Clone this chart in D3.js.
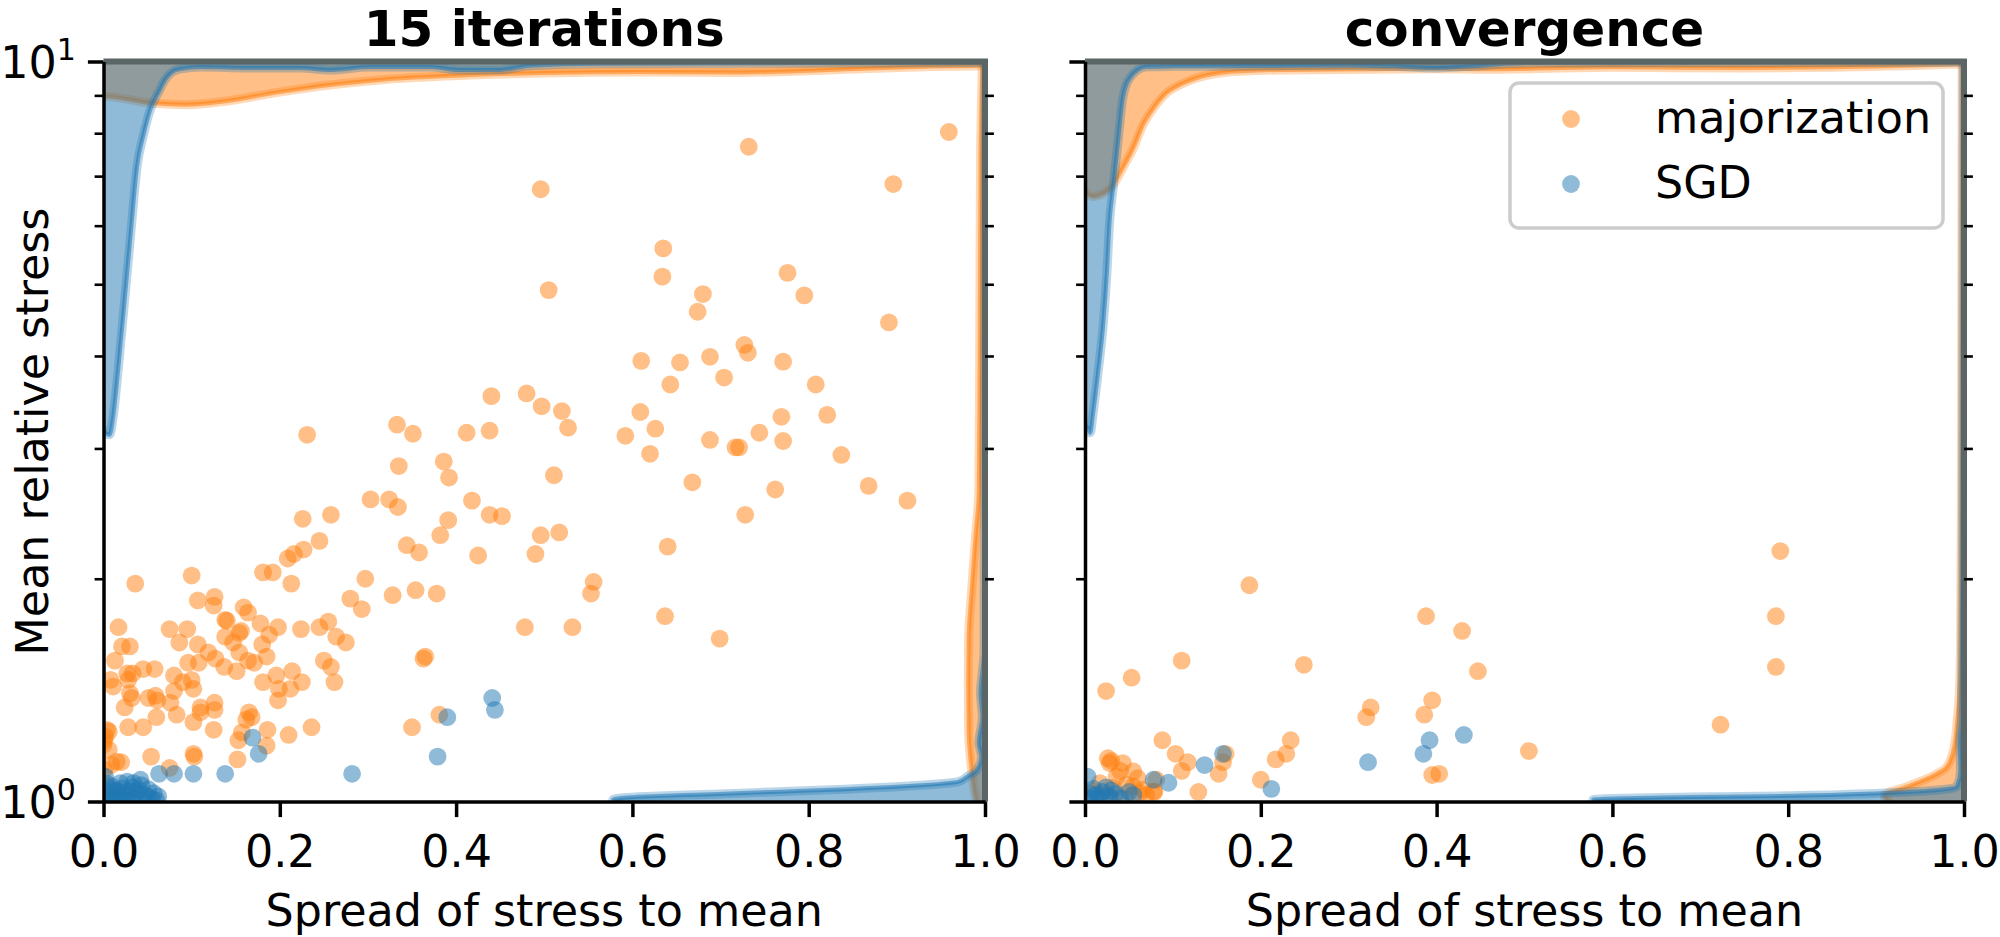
<!DOCTYPE html>
<html>
<head>
<meta charset="utf-8">
<script src="https://cdn.jsdelivr.net/npm/d3@7/dist/d3.min.js"></script>
<style>
  body { margin: 0; background: #fff; }
  svg text { font-family: "DejaVu Sans", sans-serif; fill: #000; }
</style>
</head>
<body>
<div id="chart"></div>
<script>
var orange = '#ff7f0e',
    blue = '#1f77b4';

var titles = ['15 iterations', 'convergence'],
    seriesNames = ['majorization', 'SGD'],
    xTicks = [0, 0.2, 0.4, 0.6, 0.8, 1.0],
    yMajor = [1, 10],
    yMinor = [2, 3, 4, 5, 6, 7, 8, 9];

// scatter points, [spread, mean relative stress]
var maj15 = [
  [0.959, 8.03], [0.732, 7.67], [0.496, 6.72], [0.896, 6.83], [0.635, 5.59], [0.634, 5.12], [0.776, 5.18],
  [0.505, 4.91], [0.680, 4.85], [0.795, 4.83], [0.674, 4.59], [0.891, 4.44], [0.727, 4.14], [0.731, 4.04],
  [0.610, 3.94], [0.654, 3.92], [0.688, 3.99], [0.771, 3.93], [0.643, 3.66], [0.704, 3.74], [0.808, 3.66],
  [0.440, 3.53], [0.480, 3.56], [0.497, 3.42], [0.520, 3.37], [0.609, 3.36], [0.769, 3.31], [0.821, 3.33],
  [0.527, 3.20], [0.626, 3.19], [0.333, 3.23], [0.412, 3.15], [0.438, 3.17], [0.351, 3.14], [0.592, 3.12],
  [0.744, 3.15], [0.688, 3.08], [0.721, 3.01], [0.717, 3.01], [0.771, 3.07], [0.837, 2.94], [0.620, 2.95],
  [0.231, 3.13], [0.386, 2.88], [0.335, 2.84], [0.511, 2.76],
  [0.392, 2.74], [0.668, 2.70], [0.762, 2.64], [0.868, 2.67], [0.912, 2.55], [0.728, 2.44], [0.640, 2.21],
  [0.637, 1.78], [0.699, 1.66], [0.556, 1.98], [0.553, 1.91], [0.478, 1.72], [0.532, 1.72], [0.496, 2.29],
  [0.517, 2.31], [0.490, 2.16], [0.418, 2.55], [0.438, 2.44], [0.452, 2.43], [0.391, 2.40], [0.382, 2.29],
  [0.425, 2.15], [0.303, 2.56], [0.324, 2.56], [0.334, 2.50], [0.344, 2.22], [0.358, 2.17], [0.297, 2.00],
  [0.328, 1.90], [0.354, 1.93], [0.378, 1.91], [0.280, 1.88], [0.293, 1.82], [0.363, 1.56], [0.365, 1.57],
  [0.381, 1.31], [0.350, 1.26],
  [0.226, 2.41], [0.258, 2.44], [0.245, 2.25], [0.227, 2.19], [0.216, 2.16], [0.209, 2.13], [0.181, 2.04],
  [0.192, 2.04], [0.213, 1.97], [0.100, 2.02], [0.036, 1.97], [0.107, 1.87], [0.126, 1.89], [0.125, 1.84],
  [0.159, 1.83], [0.164, 1.80], [0.138, 1.76], [0.140, 1.755], [0.017, 1.72], [0.075, 1.71], [0.095, 1.71],
  [0.086, 1.64], [0.107, 1.63], [0.021, 1.62], [0.030, 1.62], [0.178, 1.74], [0.198, 1.72], [0.224, 1.71],
  [0.154, 1.69], [0.156, 1.70], [0.188, 1.68], [0.138, 1.67], [0.147, 1.64], [0.180, 1.63], [0.154, 1.59],
  [0.119, 1.59], [0.127, 1.56], [0.185, 1.57], [0.164, 1.55], [0.171, 1.54], [0.151, 1.50], [0.137, 1.52],
  [0.013, 1.55], [0.096, 1.54], [0.108, 1.54], [0.045, 1.51], [0.058, 1.51], [0.027, 1.49], [0.033, 1.49],
  [0.028, 1.46], [0.080, 1.48], [0.090, 1.45], [0.100, 1.46], [0.102, 1.42], [0.080, 1.41], [0.008, 1.46],
  [0.011, 1.43], [0.196, 1.48], [0.214, 1.50], [0.225, 1.45], [0.181, 1.45], [0.199, 1.42], [0.212, 1.42],
  [0.198, 1.37], [0.250, 1.55], [0.258, 1.52], [0.262, 1.45], [0.245, 1.72], [0.255, 1.75], [0.264, 1.67],
  [0.275, 1.64], [0.030, 1.40], [0.032, 1.38], [0.051, 1.38], [0.061, 1.37], [0.059, 1.39], [0.076, 1.36],
  [0.024, 1.34], [0.083, 1.31], [0.060, 1.30], [0.028, 1.26], [0.045, 1.26], [0.102, 1.28], [0.125, 1.25],
  [0.110, 1.34], [0.110, 1.32], [0.126, 1.36], [0.126, 1.33], [0.165, 1.32], [0.162, 1.29], [0.168, 1.30],
  [0.157, 1.24], [0.153, 1.21], [0.186, 1.25], [0.185, 1.19], [0.152, 1.14], [0.210, 1.23], [0.236, 1.26],
  [0.054, 1.15], [0.075, 1.11], [0.102, 1.16], [0.103, 1.15], [0.020, 1.13],
  [0.002, 1.224], [0.006, 1.243], [0.000, 1.193], [0.006, 1.175], [0.009, 1.121], [0.015, 1.132],
  [0.001, 1.104], [0.003, 1.05], [0.012, 1.03], [0.004, 1.25], [0.001, 1.21]
];

var sgd15 = [
  [0.441, 1.38], [0.444, 1.33], [0.390, 1.30], [0.379, 1.15], [0.282, 1.09], [0.169, 1.22], [0.176, 1.16],
  [0.138, 1.09], [0.102, 1.09], [0.080, 1.09], [0.063, 1.09], [0.002, 1.08],
  [0.010, 1.048], [0.019, 1.059], [0.027, 1.064], [0.034, 1.059], [0.042, 1.070], [0.008, 1.021],
  [0.019, 1.026], [0.030, 1.032], [0.040, 1.037], [0.051, 1.039], [0.057, 1.026], [0.062, 1.016],
  [0.047, 1.021], [0.004, 1.005], [0.012, 1.01], [0.025, 1.005], [0.035, 1.012], [0.015, 1.035],
  [0.005, 1.03], [0.045, 1.004], [0.055, 1.008], [0.022, 1.042], [0.008, 1.012], [0.016, 1.018],
  [0.027, 1.022], [0.038, 1.028], [0.030, 1.003], [0.020, 1.002], [0.050, 1.015], [0.010, 1.038],
  [0.033, 1.045], [0.043, 1.052], [0.060, 1.003], [0.003, 1.058]
];

var majConv = [
  [0.791, 2.18], [0.187, 1.96], [0.388, 1.78], [0.786, 1.78], [0.429, 1.70], [0.110, 1.55], [0.249, 1.53],
  [0.447, 1.50], [0.786, 1.52], [0.053, 1.47], [0.024, 1.41], [0.395, 1.37], [0.386, 1.31], [0.325, 1.34],
  [0.320, 1.30], [0.723, 1.27], [0.505, 1.17], [0.234, 1.21], [0.229, 1.16], [0.217, 1.14], [0.088, 1.21],
  [0.103, 1.16], [0.117, 1.13], [0.110, 1.10], [0.160, 1.16], [0.157, 1.13], [0.152, 1.09], [0.200, 1.07],
  [0.129, 1.03], [0.395, 1.086], [0.403, 1.09], [0.079, 1.03],
  [0.026, 1.144], [0.028, 1.127], [0.043, 1.127], [0.055, 1.098], [0.060, 1.075], [0.055, 1.048],
  [0.066, 1.037], [0.070, 1.021], [0.036, 1.081], [0.047, 1.053], [0.017, 1.059], [0.011, 1.032],
  [0.032, 1.043], [0.062, 1.026], [0.078, 1.032], [0.081, 1.070], [0.030, 1.135], [0.040, 1.10],
  [0.025, 1.02], [0.045, 1.01]
];

var sgdConv = [
  [0.431, 1.23], [0.392, 1.21], [0.385, 1.16], [0.322, 1.13], [0.136, 1.12], [0.157, 1.16], [0.212, 1.04],
  [0.095, 1.06], [0.078, 1.07], [0.050, 1.03], [0.003, 1.08],
  [0.005, 1.01], [0.012, 1.02], [0.020, 1.03], [0.028, 1.015], [0.035, 1.025], [0.010, 1.04],
  [0.018, 1.005], [0.030, 1.035], [0.040, 1.01], [0.024, 1.045], [0.006, 1.025], [0.015, 1.012], [0.055, 1.02]
];

// marginal density outlines
// top margin: [spread, stress level of the curve], hanging from 10
var topMaj15 = [[0, 8.97], [0.002, 8.97], [0.056, 8.78], [0.093, 8.74], [0.136, 8.83], [0.194, 9.07],
  [0.259, 9.30], [0.316, 9.45], [0.389, 9.56], [0.497, 9.65], [0.605, 9.68], [0.714, 9.66], [0.822, 9.74],
  [0.930, 9.84], [0.995, 9.87], [1.0, 9.9]];
var topSgd15 = [[0, 3.18], [0.003, 3.14], [0.007, 3.13], [0.011, 3.31], [0.017, 3.87], [0.024, 4.76],
  [0.031, 5.87], [0.038, 7.20], [0.046, 8.01], [0.053, 8.60], [0.064, 9.16], [0.070, 9.45], [0.078, 9.68],
  [0.087, 9.77], [0.110, 9.83], [0.166, 9.80], [0.223, 9.80], [0.257, 9.74], [0.302, 9.83], [0.370, 9.83],
  [0.404, 9.74], [0.449, 9.74], [0.483, 9.87], [0.563, 9.93], [1.0, 9.96]];
var topMajConv = [[0, 6.67], [0.009, 6.57], [0.017, 6.60], [0.032, 6.81], [0.043, 7.18], [0.055, 7.64],
  [0.066, 8.21], [0.078, 8.65], [0.093, 9.07], [0.108, 9.30], [0.127, 9.50], [0.153, 9.65], [0.183, 9.71],
  [0.221, 9.74], [0.400, 9.78], [0.460, 9.76], [0.600, 9.82], [0.750, 9.80], [0.850, 9.82], [1.0, 9.92]];
var topSgdConv = [[0, 3.20], [0.003, 3.20], [0.006, 3.15], [0.009, 3.33], [0.015, 3.81], [0.021, 4.45],
  [0.025, 5.20], [0.028, 6.08], [0.032, 6.74], [0.038, 7.88], [0.043, 8.92], [0.051, 9.50], [0.070, 9.84],
  [0.100, 9.85], [0.200, 9.86], [0.300, 9.88], [0.350, 9.85], [0.400, 9.80], [0.450, 9.87], [0.500, 9.95],
  [1.0, 9.98]];

// right margin: [stress, spread level of the curve], hanging from 1.0
var rightMaj15 = [[1.0, 0.990], [1.05, 0.987], [1.097, 0.985], [1.24, 0.9815], [1.44, 0.981],
  [1.67, 0.9815], [1.94, 0.985], [2.26, 0.989], [2.63, 0.993], [4, 0.994], [7.5, 0.995], [10, 0.997]];
var rightSgd15 = [[1.0, 0.585], [1.006, 0.578], [1.012, 0.59], [1.016, 0.615], [1.023, 0.691],
  [1.031, 0.766], [1.039, 0.842], [1.05, 0.917], [1.064, 0.97], [1.081, 0.98], [1.1, 0.99], [1.15, 0.996],
  [1.2, 0.993], [1.3, 0.997], [1.4, 0.995], [1.6, 0.999], [10, 1.0]];
var rightMajConv = [[1.0, 0.915], [1.018, 0.909], [1.048, 0.936], [1.079, 0.962], [1.109, 0.979],
  [1.15, 0.986], [1.21, 0.990], [1.276, 0.992], [1.358, 0.994], [1.6, 0.996], [2.5, 0.997], [10, 0.998]];
var rightSgdConv = [[1.0, 0.585], [1.006, 0.578], [1.014, 0.69], [1.018, 0.803], [1.026, 0.905],
  [1.037, 0.973], [1.048, 0.992], [1.1, 0.996], [1.2, 0.995], [1.3, 0.997], [2, 0.998], [10, 0.999]];

var panels = [
  { title: titles[0], left: 103.5, right: 985, maj: maj15, sgd: sgd15,
    topMaj: topMaj15, topSgd: topSgd15, rightMaj: rightMaj15, rightSgd: rightSgd15, yLabels: true },
  { title: titles[1], left: 1085, right: 1964, maj: majConv, sgd: sgdConv,
    topMaj: topMajConv, topSgd: topSgdConv, rightMaj: rightMajConv, rightSgd: rightSgdConv, legend: true }
];

var plotTop = 61.5,
    plotBottom = 801.5,
    fontSize = 44.4,
    majorLen = 15.6,
    minorLen = 8.9,
    spineW = 3.5,
    dotR = 8.9;

var svg = d3.select('#chart').append('svg')
    .attr('width', 2000)
    .attr('height', 937)
    .style('display', 'block')
    .style('background', '#fff');

var y = d3.scaleLog().domain([1, 10]).range([plotBottom, plotTop]);

panels.forEach(function(p, pi) {
  var x = d3.scaleLinear().domain([0, 1]).range([p.left, p.right]);
  var g = svg.append('g');

  var clipId = 'clip' + pi;
  svg.append('clipPath').attr('id', clipId).append('rect')
      .attr('x', p.left).attr('y', plotTop)
      .attr('width', p.right - p.left).attr('height', plotBottom - plotTop);

  var plot = g.append('g').attr('clip-path', 'url(#' + clipId + ')');

  // scatter: majorization first, SGD on top
  [[p.maj, orange], [p.sgd, blue]].forEach(function(s) {
    plot.append('g').selectAll('circle').data(s[0]).enter().append('circle')
        .attr('cx', function(d) { return x(d[0]); })
        .attr('cy', function(d) { return y(d[1]); })
        .attr('r', dotR)
        .attr('fill', s[1])
        .attr('fill-opacity', 0.5);
  });

  // marginal densities
  var topArea = d3.area().x(function(d) { return x(d[0]); })
      .y0(y(10)).y1(function(d) { return y(d[1]); }).curve(d3.curveMonotoneX);
  var topLine = d3.line().x(function(d) { return x(d[0]); })
      .y(function(d) { return y(d[1]); }).curve(d3.curveMonotoneX);
  var rightArea = d3.area().y(function(d) { return y(d[0]); })
      .x0(x(1)).x1(function(d) { return x(d[1]); }).curve(d3.curveMonotoneY);
  var rightLine = d3.line().y(function(d) { return y(d[0]); })
      .x(function(d) { return x(d[1]); }).curve(d3.curveMonotoneY);

  function density(data, area, line, color) {
    plot.append('path').attr('d', area(data)).attr('fill', color).attr('fill-opacity', 0.5);
    plot.append('path').attr('d', line(data)).attr('fill', 'none')
        .attr('stroke', color).attr('stroke-opacity', 0.3).attr('stroke-width', 9)
        .attr('stroke-linejoin', 'round').attr('stroke-linecap', 'round');
    plot.append('path').attr('d', line(data)).attr('fill', 'none')
        .attr('stroke', color).attr('stroke-opacity', 0.55).attr('stroke-width', 4)
        .attr('stroke-linejoin', 'round').attr('stroke-linecap', 'round');
  }
  density(p.topMaj, topArea, topLine, orange);
  density(p.rightMaj, rightArea, rightLine, orange);
  density(p.topSgd, topArea, topLine, blue);
  density(p.rightSgd, rightArea, rightLine, blue);

  // top and right edges where the density outlines pile up
  g.append('path')
      .attr('d', 'M' + x(0) + ',' + y(10) + 'H' + x(1) + 'V' + y(1))
      .attr('fill', 'none').attr('stroke', '#5b6565').attr('stroke-width', 6);

  // x axis
  var xAxis = d3.axisBottom(x).tickValues(xTicks).tickFormat(d3.format('.1f'))
      .tickSize(majorLen).tickSizeOuter(0).tickPadding(18);
  var xg = g.append('g').attr('transform', 'translate(0,' + plotBottom + ')').call(xAxis);
  xg.select('.domain').attr('stroke-width', spineW);
  xg.selectAll('.tick line').attr('stroke-width', spineW);
  xg.selectAll('.tick text').attr('font-size', fontSize).attr('font-family', '"DejaVu Sans"');

  // left y axis
  var yMajorAxis = d3.axisLeft(y).tickValues(yMajor).tickSize(majorLen).tickSizeOuter(0).tickPadding(12);
  var ymg = g.append('g').attr('transform', 'translate(' + p.left + ',0)').call(yMajorAxis);
  ymg.select('.domain').attr('stroke-width', spineW);
  ymg.selectAll('.tick line').attr('stroke-width', spineW);
  ymg.selectAll('.tick text').each(function(d) {
    var t = d3.select(this).text(null)
        .attr('font-size', fontSize).attr('font-family', '"DejaVu Sans"').attr('dy', '0.36em');
    if (!p.yLabels) { t.remove(); return; }
    t.append('tspan').text('10');
    t.append('tspan').attr('dy', -18).attr('font-size', 30).text(Math.round(Math.log10(d)));
  });

  var yMinorAxis = d3.axisLeft(y).tickValues(yMinor).tickSize(minorLen).tickFormat('');
  var ynl = g.append('g').attr('transform', 'translate(' + p.left + ',0)').call(yMinorAxis);
  ynl.select('.domain').remove();
  ynl.selectAll('.tick line').attr('stroke-width', 2.6);

  var yRightAxis = d3.axisRight(y).tickValues(yMinor).tickSize(minorLen).tickFormat('');
  var ynr = g.append('g').attr('transform', 'translate(' + p.right + ',0)').call(yRightAxis);
  ynr.select('.domain').remove();
  ynr.selectAll('.tick line').attr('stroke-width', 2.6);

  // titles and labels
  g.append('text')
      .attr('x', (p.left + p.right) / 2).attr('y', 46)
      .attr('text-anchor', 'middle')
      .attr('font-size', 50).attr('font-weight', 'bold')
      .text(p.title);

  g.append('text')
      .attr('x', (p.left + p.right) / 2).attr('y', 926)
      .attr('text-anchor', 'middle')
      .attr('font-size', fontSize)
      .text('Spread of stress to mean');

  if (p.yLabels) {
    g.append('text')
        .attr('transform', 'translate(48,' + (plotTop + plotBottom) / 2 + ') rotate(-90)')
        .attr('text-anchor', 'middle')
        .attr('font-size', fontSize)
        .text('Mean relative stress');
  }

  if (p.legend) {
    var lg = g.append('g').attr('transform', 'translate(1510,83)');
    lg.append('rect').attr('width', 433).attr('height', 145).attr('rx', 9)
        .attr('fill', '#fff').attr('fill-opacity', 0.8)
        .attr('stroke', '#cccccc').attr('stroke-width', 3.5);
    var items = lg.selectAll('.item').data(seriesNames).enter().append('g')
        .attr('transform', function(d, i) { return 'translate(0,' + (36 + i * 65) + ')'; });
    items.append('circle').attr('cx', 61).attr('r', dotR)
        .attr('fill', function(d, i) { return i === 0 ? orange : blue; })
        .attr('fill-opacity', 0.5);
    items.append('text').attr('x', 145).attr('dy', '0.32em')
        .attr('font-size', fontSize).text(function(d) { return d; });
  }
});
</script>
</body>
</html>
